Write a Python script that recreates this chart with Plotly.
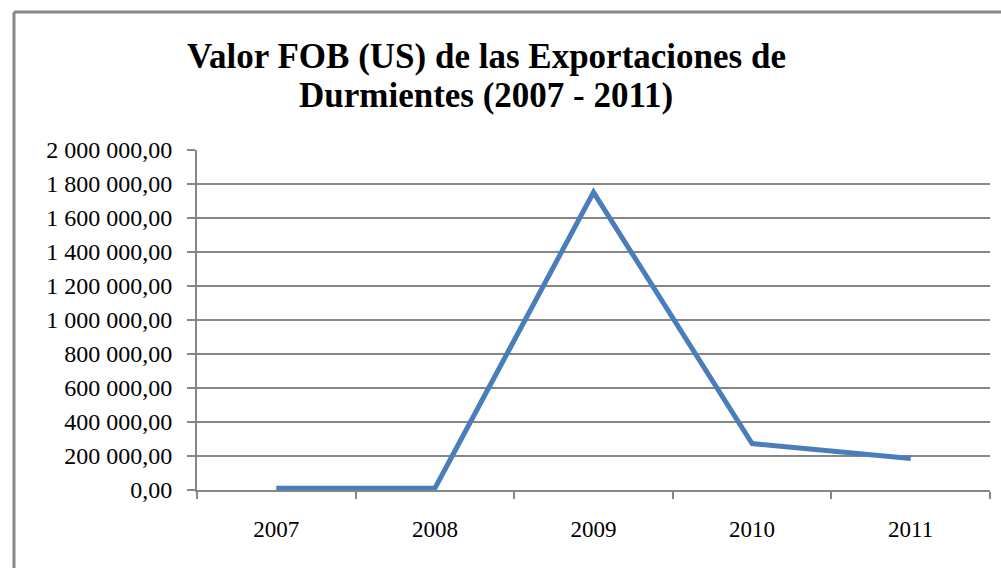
import plotly.graph_objects as go

years = ["2007", "2008", "2009", "2010", "2011"]
fob_values = [10000, 10000, 1751000, 273000, 185000]
y_ticks = [0, 200000, 400000, 600000, 800000, 1000000, 1200000, 1400000, 1600000, 1800000, 2000000]
title_lines = ["Valor FOB (US) de las Exportaciones de", "Durmientes (2007 - 2011)"]

W, H = 1001, 568
L, R, T, B = 197, 11, 150, 78
pw, ph = W - L - R, H - T - B
SERIF = "Liberation Serif, Tinos, Times New Roman, DejaVu Serif, serif"

def px_x(p):
    return (p - L) / pw

def px_y(p):
    return (H - B - p) / ph

fig = go.Figure()
fig.add_trace(go.Scatter(
    x=years, y=fob_values, mode="lines",
    line=dict(color="#4a7ebb", width=5),
    hoverinfo="skip", showlegend=False,
))

grid = "#868686"
title_centers = [56, 96]
annotations = [
    dict(text="<b>" + t + "</b>", xref="paper", yref="paper",
         x=px_x(486), y=px_y(cy), xanchor="center", yanchor="middle",
         showarrow=False, font=dict(family=SERIF, size=35, color="black"))
    for t, cy in zip(title_lines, title_centers)
]

fig.update_layout(
    width=W, height=H,
    margin=dict(l=L, r=R, t=T, b=B),
    paper_bgcolor="white", plot_bgcolor="white",
    separators=", ",
    font=dict(family=SERIF, color="black"),
    annotations=annotations,
    xaxis=dict(
        type="category", range=[-0.5, 4.5],
        showgrid=False, showline=True, linecolor=grid, linewidth=2,
        ticks="outside", tickson="boundaries", ticklen=7, tickcolor=grid, tickwidth=2,
        tickfont=dict(size=23, family=SERIF, color="black"),
        ticklabelstandoff=17,
        fixedrange=True,
    ),
    yaxis=dict(
        range=[0, 2000000], tickvals=y_ticks, tickformat=",.2f",
        showgrid=True, gridcolor=grid, gridwidth=2, zeroline=False,
        showline=True, linecolor=grid, linewidth=2,
        ticks="outside", ticklen=8, tickcolor=grid, tickwidth=2,
        tickfont=dict(size=24, family=SERIF, color="black"),
        ticklabelstandoff=10,
        fixedrange=True,
    ),
    shapes=[
        dict(type="line", xref="paper", yref="paper",
             x0=px_x(14), x1=px_x(1010), y0=px_y(12), y1=px_y(12),
             line=dict(color="#888888", width=3)),
        dict(type="line", xref="paper", yref="paper",
             x0=px_x(14), x1=px_x(14), y0=px_y(12), y1=px_y(580),
             line=dict(color="#888888", width=3)),
    ],
)

fig.write_html("out.html", config={"displayModeBar": False},
               post_script="document.body.style.margin='0';document.body.style.overflow='hidden';")
